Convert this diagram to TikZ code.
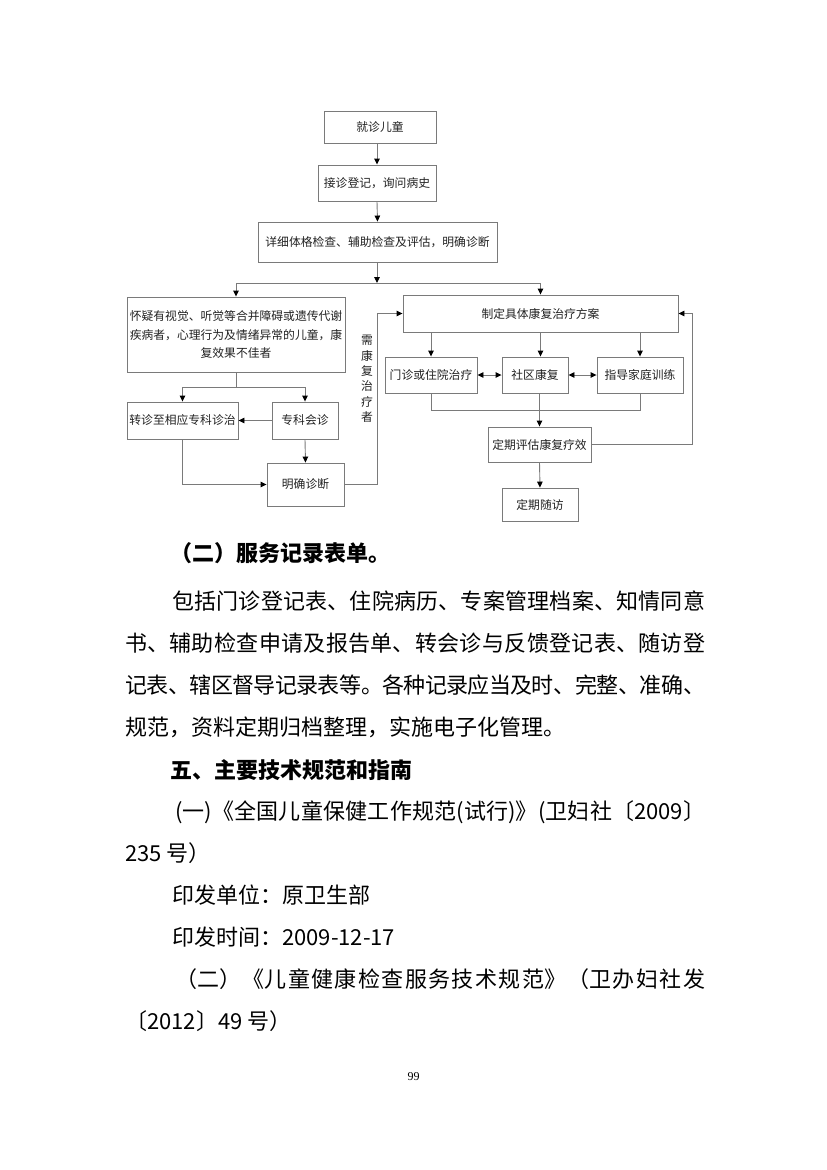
\documentclass[tikz,border=0pt]{standalone}
\usepackage{fontspec}
\setmainfont{Noto Sans CJK SC}
\newfontfamily\cjk{Noto Sans CJK SC}
\newfontfamily\tms{Liberation Serif}
\usetikzlibrary{arrows.meta}
\XeTeXlinebreaklocale "zh"
\XeTeXlinebreakskip=0pt\relax
\newcommand\jstart{\noindent\parfillskip=0pt\relax\XeTeXlinebreakskip=0pt plus 6pt minus 2pt\relax}
\definecolor{ln}{HTML}{7A7A7A}
\definecolor{tx}{HTML}{222222}
\begin{document}
\begin{tikzpicture}[x=1pt,y=-1pt,
  box/.style={draw=ln, line width=0.9pt, inner sep=0pt, text=tx,
    font=\cjk\fontsize{11.8}{18.5}\selectfont, align=center},
  conn/.style={draw=ln, line width=0.9pt},
  arr/.style={conn, -{Triangle[length=6pt,width=5.5pt,color=black]}},
  darr/.style={conn, {Triangle[length=6pt,width=5.5pt,color=black]}-{Triangle[length=6pt,width=5.5pt,color=black]}},
  bl/.style={anchor=west, inner sep=0pt, text=black, font=\cjk\fontsize{22}{26}\selectfont},
  jl/.style={bl, text width=#1, align=justify},
  hd/.style={anchor=west, inner sep=0pt, text=black, font=\cjk\bfseries\fontsize{22}{26}\selectfont}]
\path[use as bounding box, fill=white] (0,0) rectangle (827,1170);

% ---------- flowchart ----------
\node[box, minimum width=112, minimum height=32] (n1) at (380,127) {就诊儿童};
\node[box, minimum width=118, minimum height=36] (n2) at (377,183) {接诊登记，询问病史};
\node[box, minimum width=239, minimum height=40] (n3) at (377.5,242) {详细体格检查、辅助检查及评估，明确诊断};
\coordinate (j1) at (377,283);

\node[box, minimum width=218, minimum height=75, text width=216] (n4) at (236,334.5)
  {怀疑有视觉、听觉等合并障碍或遗传代谢\\疾病者，心理行为及情绪异常的儿童，康\\复效果不佳者};
\coordinate (j2) at (236,387);
\node[box, minimum width=111, minimum height=37] (n6) at (182.5,420.5) {转诊至相应专科诊治};
\node[box, minimum width=66, minimum height=37] (n7) at (305,420.5) {专科会诊};
\node[box, minimum width=77, minimum height=43] (n8) at (305.5,484.5) {明确诊断};
\coordinate (c1) at (377,313.5);
\node[text=tx, inner sep=0pt, align=center, font=\cjk\fontsize{11.8}{15.4}\selectfont] (lbl) at (367,379)
  {需\\康\\复\\治\\疗\\者};

\node[box, minimum width=275, minimum height=37] (n5) at (540.5,313.5) {制定具体康复治疗方案};
\node[box, minimum width=92, minimum height=36] (n9) at (431,375) {门诊或住院治疗};
\node[box, minimum width=66, minimum height=36] (n10) at (535,375) {社区康复};
\node[box, minimum width=86, minimum height=36] (n11) at (640,375) {指导家庭训练};
\coordinate (j3) at (431,410);
\coordinate (j4) at (640,410);
\node[box, minimum width=103, minimum height=35] (n12) at (539.5,444.5) {定期评估康复疗效};
\node[box, minimum width=76, minimum height=33] (n13) at (540,504.5) {定期随访};
\coordinate (c2) at (692,313.5);

\draw[arr] (n1.south -| n2.north) -- (n2.north);
\draw[arr] (n2.south) -- (n3.north);
\draw[arr] (n3.south -| j1) -- (j1);
\draw[arr] (j1) -| (n4.north);
\draw[arr] (j1) -| (n5.north);
\draw[conn] (n4.south) -- (j2);
\draw[arr] (j2) -| (n6.north);
\draw[arr] (j2) -| (n7.north);
\draw[arr] (n7.west) -- (n6.east);
\draw[arr] (n7.south) -- (n8.north);
\draw[arr] (n6.south) |- (n8.west);
\draw[arr] (n8.east) -| (c1) -- (n5.west);

\draw[arr] (n5.south -| n9.north) -- (n9.north);
\draw[arr] (n5.south) -- (n5.south |- n10.north);
\draw[arr] (n5.south -| n11.north) -- (n11.north);
\draw[darr] (n9.east) -- (n10.west);
\draw[darr] (n10.east) -- (n11.west);
\draw[conn] (n9.south) -- (j3) -- (j4) -- (n11.south);
\draw[arr] (n10.south -| n12.north) -- (n12.north);
\draw[arr] (n12.east) -| (c2) -- (n5.east);
\draw[arr] (n12.south) -- (n13.north);

% ---------- body text ----------
\node[hd] (t1) at (170,553) {（二）服务记录表单。};
\node[jl=533] (t2) at (172,601) {\jstart 包括门诊登记表、住院病历、专案管理档案、知情同意\par};
\node[jl=580] (t3) at (125,643) {\jstart 书、辅助检查申请及报告单、转会诊与反馈登记表、随访登\par};
\node[jl=580] (t4) at (125,685) {\jstart 记表、辖区督导记录表等。各种记录应当及时、完整、准确、\par};
\node[bl] (t5) at (125,727) {规范，资料定期归档整理，实施电子化管理。};
\node[hd] (t6) at (170,770) {五、主要技术规范和指南};
\node[jl=530] (t7) at (175,812) {\jstart (一)《全国儿童保健工作规范(试行)》(卫妇社〔2009〕\par};
\node[bl] (t8) at (125,853) {235 号）};
\node[bl] (t9) at (172,895) {印发单位：原卫生部};
\node[bl] (t10) at (172,937) {印发时间：2009-12-17};
\node[jl=530] (t11) at (175,979) {\jstart （二）《儿童健康检查服务技术规范》（卫办妇社发\par};
\node[bl] (t12) at (125,1021) {〔2012〕49 号）};
\node[inner sep=0pt, font=\tms\fontsize{12}{14}\selectfont] (pg) at (413.5,1077) {99};
\end{tikzpicture}
\end{document}
